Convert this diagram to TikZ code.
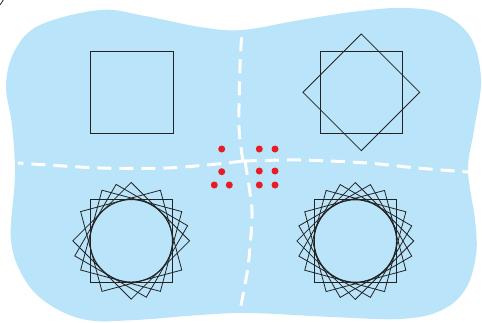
\documentclass[tikz,border=0pt]{standalone}
\usepackage{xcolor}
\usepackage{tikz}
\usetikzlibrary{calc}
\definecolor{mydark}{RGB}{35,35,35}
\definecolor{myred}{RGB}{232,28,36}
\definecolor{myblue}{RGB}{185,228,249}
\tikzset{
  blob/.style={fill=myblue, draw=none},
  divider/.style={white, line width=3pt, dash pattern=on 14pt off 8pt},
  sq/.style={draw=mydark, line width=0.8pt},
  ring/.style={draw=mydark, line width=1.1pt},
  reddot/.style={fill=myred}
}

\begin{document}
\begin{tikzpicture}[x=1pt, y=1pt]
  \useasboundingbox (0,0) rectangle (482,322);

  % Background region
  \fill[blob] plot[smooth cycle, tension=0.6] coordinates {
    (40,297) (100,312) (145,306) (200,295) (242,292) (300,302)
    (360,311) (405,314) (443,308) (471,284) (481,242) (474,192)
    (468,152) (475,102) (476,67) (465,32) (440,11) (400,3)
    (333,5) (250,9) (200,7) (135,2) (87,2) (50,17) (25,42)
    (11,82) (15,147) (12,197) (6,237) (15,272)};

  % Cut-off mark
  \draw[mydark, line width=0.8pt] (0,317) -- (3.3,322);

  % Centres
  \coordinate (J) at (243,161);   % junction
  \coordinate (TL) at (132,229.7);
  \coordinate (TR) at (361.3,229.7);
  \coordinate (BL) at (131.2,81.2);
  \coordinate (BR) at (355.3,81);

  % Dividers
  \draw[divider] plot[smooth] coordinates {(J) (239,195) (240,255) (242,292)};
  \draw[divider] plot[smooth] coordinates {(J) (217,158) (167,154) (100,154) (18,159)};
  \draw[divider] plot[smooth] coordinates {(J) (300,162) (367,159) (417,154) (468,150)};
  \draw[divider] plot[smooth] coordinates {(245,161) (250,129) (252,105) (248,55) (240,12)};

  % Top left: one square
  \draw[sq, shift={(TL)}] (-41.3,-41.3) rectangle (41.3,41.3);

  % Top right: square and its 45 degree turn
  \foreach \a in {0,45}
    \draw[sq, shift={(TR)}, rotate=\a] (-41.3,-41.3) rectangle (41.3,41.3);

  % Bottom left: several turns and a circle
  \foreach \a in {0,15,45,60,75}
    \draw[sq, shift={(BL)}, rotate=\a] (-41.3,-41.3) rectangle (41.3,41.3);
  \draw[ring] (BL) circle (41.3);

  % Bottom right: turns every 15 degrees and a circle
  \foreach \a in {0,15,...,75}
    \draw[sq, shift={(BR)}, rotate=\a] (-41.3,-41.3) rectangle (41.3,41.3);
  \draw[ring] (BR) circle (41.3);

  % Red dots
  \foreach \p in {(221.7,173),(259.3,173),(275,173),
                  (221.7,150.3),(259.3,151),(275,151),
                  (214.3,137),(229.3,137),(259.3,137),(275,137)}
    \fill[reddot] \p circle (3.5);
\end{tikzpicture}
\end{document}
